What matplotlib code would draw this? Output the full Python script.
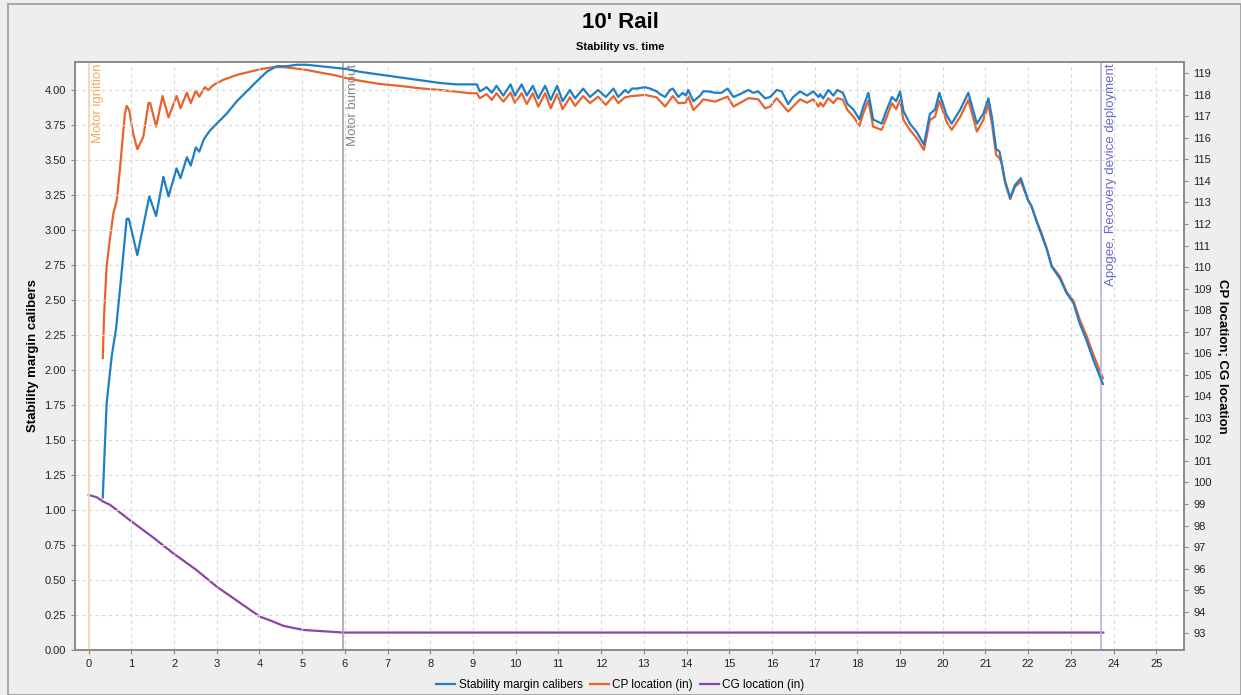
import matplotlib
matplotlib.use("Agg")
import matplotlib.pyplot as plt
from matplotlib.patches import Rectangle
import numpy as np

plt.rcParams['font.family'] = ['Liberation Sans', 'DejaVu Sans']

# stability margin (calibers), left axis
stab_t = [0.33, 0.42, 0.54, 0.64, 0.77, 0.89, 0.94, 1.14, 1.42, 1.58, 1.75, 1.87, 2.06, 2.15,
          2.30, 2.39, 2.51, 2.59, 2.70, 2.84, 3.00, 3.23, 3.47, 3.70, 3.93, 4.17, 4.40, 4.64,
          4.87, 5.11, 5.42, 5.73, 6.04, 6.35, 6.82, 7.29, 7.76, 8.23, 8.62, 8.85, 9.09, 9.16,
          9.32, 9.44, 9.55, 9.71, 9.88, 9.98, 10.14, 10.26, 10.40, 10.53, 10.69, 10.82, 10.97,
          11.10, 11.27, 11.39, 11.58, 11.74, 11.93, 12.11, 12.29, 12.40, 12.56, 12.64, 12.72,
          12.83, 13.03, 13.15, 13.30, 13.38, 13.50, 13.61, 13.68, 13.81, 13.91, 13.98, 14.04,
          14.16, 14.32, 14.39, 14.51, 14.67, 14.82, 14.96, 15.10, 15.25, 15.45, 15.56, 15.68,
          15.84, 15.96, 16.11, 16.23, 16.38, 16.50, 16.66, 16.82, 16.97, 17.09, 17.13, 17.20,
          17.32, 17.44, 17.53, 17.66, 17.77, 17.91, 18.05, 18.14, 18.26, 18.37, 18.57, 18.69,
          18.81, 18.91, 19.00, 19.08, 19.23, 19.39, 19.56, 19.70, 19.82, 19.92, 20.09, 20.21,
          20.41, 20.60, 20.80, 20.95, 21.07, 21.15, 21.25, 21.33, 21.46, 21.58, 21.69, 21.83,
          22.00, 22.08, 22.20, 22.32, 22.44, 22.55, 22.75, 22.90, 23.06, 23.21, 23.37, 23.53, 23.75]
stab_v = [1.09, 1.76, 2.10, 2.29, 2.69, 3.08, 3.08, 2.82, 3.24, 3.10, 3.38, 3.24, 3.44, 3.37,
          3.52, 3.46, 3.59, 3.56, 3.65, 3.71, 3.76, 3.83, 3.92, 3.99, 4.06, 4.13, 4.17, 4.17,
          4.18, 4.18, 4.17, 4.16, 4.15, 4.13, 4.11, 4.09, 4.07, 4.05, 4.04, 4.04, 4.04, 3.99,
          4.02, 3.98, 4.03, 3.96, 4.04, 3.96, 4.04, 3.96, 4.03, 3.94, 4.03, 3.93, 4.03,
          3.92, 4.00, 3.94, 4.01, 3.95, 4.00, 3.95, 4.01, 3.95, 4.00, 3.98, 4.01,
          4.01, 4.02, 4.01, 3.99, 3.97, 3.95, 4.00, 4.01, 3.95, 3.98, 3.96, 4.00,
          3.92, 3.96, 3.99, 3.99, 3.98, 3.98, 4.01, 3.95, 3.97, 4.00, 3.98, 3.99,
          3.94, 3.95, 4.00, 3.99, 3.90, 3.95, 3.99, 3.96, 3.99, 3.95, 3.97, 3.94,
          4.00, 3.96, 4.00, 3.98, 3.90, 3.86, 3.79, 3.88, 3.98, 3.79, 3.76, 3.86,
          3.95, 3.92, 3.99, 3.85, 3.76, 3.70, 3.61, 3.83, 3.86, 3.98, 3.82, 3.76,
          3.86, 3.98, 3.76, 3.83, 3.94, 3.81, 3.58, 3.56, 3.35, 3.23, 3.32, 3.37,
          3.21, 3.17, 3.06, 2.96, 2.86, 2.74, 2.65, 2.55, 2.48, 2.33, 2.21, 2.07, 1.90]

# CP location (in), right axis
cp_t = [0.33, 0.36, 0.42, 0.50, 0.58, 0.66, 0.73, 0.85, 0.89, 0.95, 1.04, 1.14, 1.28, 1.40,
        1.44, 1.58, 1.73, 1.87, 2.06, 2.15, 2.30, 2.39, 2.51, 2.59, 2.72, 2.80, 2.92, 3.15,
        3.47, 3.70, 4.01, 4.32, 4.56, 4.79, 5.11, 5.42, 5.73, 6.04, 6.35, 6.82, 7.29, 7.76,
        8.23, 8.62, 8.93, 9.09, 9.16, 9.32, 9.44, 9.55, 9.71, 9.88, 9.98, 10.14, 10.26, 10.40,
        10.53, 10.69, 10.82, 10.97, 11.10, 11.27, 11.39, 11.58, 11.74, 11.93, 12.11, 12.29,
        12.40, 12.56, 12.72, 13.03, 13.30, 13.50, 13.68, 13.81, 13.98, 14.04, 14.16, 14.32,
        14.39, 14.67, 14.96, 15.10, 15.45, 15.68, 15.84, 15.96, 16.11, 16.38, 16.66, 16.82,
        16.97, 17.09, 17.13, 17.20, 17.32, 17.44, 17.53, 17.66, 17.77, 17.91, 18.05, 18.14,
        18.26, 18.37, 18.57, 18.69, 18.81, 18.91, 19.00, 19.08, 19.23, 19.39, 19.56, 19.70,
        19.82, 19.92, 20.09, 20.21, 20.41, 20.60, 20.80, 20.95, 21.07, 21.15, 21.25, 21.33,
        21.38, 21.46, 21.58, 21.69, 21.83, 22.00, 22.08, 22.20, 22.32, 22.44, 22.55, 22.75,
        22.90, 23.06, 23.21, 23.37, 23.53, 23.75]
cp_v = [105.77, 107.70, 110.02, 111.35, 112.50, 113.12, 114.51, 117.14, 117.48, 117.29, 116.21,
        115.47, 116.05, 117.61, 117.62, 116.52, 117.94, 116.95, 117.94, 117.37, 118.10, 117.61,
        118.19, 117.91, 118.35, 118.22, 118.45, 118.69, 118.92, 119.03, 119.18, 119.28, 119.28,
        119.23, 119.15, 119.03, 118.92, 118.77, 118.65, 118.50, 118.41, 118.30, 118.22, 118.14,
        118.07, 118.07, 117.84, 118.03, 117.76, 118.07, 117.68, 118.10, 117.63, 118.07, 117.57,
        118.07, 117.45, 118.07, 117.37, 118.03, 117.33, 117.88, 117.48, 117.94, 117.61, 117.91,
        117.53, 117.94, 117.61, 117.88, 117.94, 117.99, 117.88, 117.45, 117.94, 117.61, 117.63,
        117.91, 117.29, 117.61, 117.79, 117.68, 117.91, 117.45, 117.84, 117.79, 117.37, 117.45,
        117.84, 117.22, 117.79, 117.63, 117.79, 117.45, 117.63, 117.45, 117.84, 117.61, 117.84,
        117.77, 117.29, 116.98, 116.55, 117.14, 117.73, 116.52, 116.37, 116.98, 117.61, 117.33,
        117.76, 116.83, 116.37, 115.98, 115.44, 116.83, 116.98, 117.73, 116.75, 116.37, 116.98,
        117.76, 116.29, 116.83, 117.53, 116.68, 115.21, 115.05, 114.82, 113.91, 113.15, 113.72,
        113.97, 113.12, 112.81, 112.14, 111.54, 110.84, 110.07, 109.54, 108.84, 108.43, 107.55,
        106.80, 105.92, 104.84]

# CG location (in), right axis
cg_t = [0.00, 0.19, 0.34, 0.50, 1.01, 1.50, 1.98, 2.50, 3.00, 3.50, 4.01, 4.32, 4.56, 5.03,
        5.73, 5.96, 23.76]
cg_v = [99.42, 99.31, 99.11, 98.96, 98.18, 97.46, 96.71, 95.97, 95.16, 94.47, 93.77, 93.54,
        93.34, 93.15, 93.06, 93.03, 93.03]

# flight events
event_t = [0.0, 5.96, 23.71]
event_names = ['Motor ignition', 'Motor burnout', 'Apogee, Recovery device deployment']
event_line_colors = ['#f7d3ad', '#aaa3a0', '#b4b4ea']
event_text_colors = ['#f2aa62', '#8a8380', '#6a6ac6']

blue = '#1f7ec6'
orange = '#e8632c'
purple = '#8b45a8'
bg = '#eeeeee'

fig = plt.figure(figsize=(12.41, 6.95), dpi=100, facecolor=bg)
fig.patches.append(Rectangle((8 / 1241, 0), 1 - 8 / 1241, 1 - 4 / 695, transform=fig.transFigure,
                             fill=False, edgecolor='#9a9a9a', linewidth=1.2))

ax = fig.add_axes([75 / 1241, 45 / 695, 1109 / 1241, 588 / 695])
ax2 = ax.twinx()

ax.set_xlim(-0.32, 25.65)
ax.set_ylim(0, 4.2)
ax2.set_ylim(92.22, 119.52)

# event lines and labels
for t, name, lc, tc in zip(event_t, event_names, event_line_colors, event_text_colors):
    ax.axvline(t, color=lc, linewidth=1.2, zorder=1)
    ax.text(t + 0.08, 4.19, name, rotation=90, ha='left', va='top', color=tc,
            fontsize=9.5, zorder=1)

l1, = ax.plot(stab_t, stab_v, color=blue, linewidth=1.6, zorder=3, label='Stability margin calibers')
l2, = ax2.plot(cp_t, cp_v, color=orange, linewidth=1.6, label='CP location (in)')
l3, = ax2.plot(cg_t, cg_v, color=purple, linewidth=1.6, label='CG location (in)')

ax.set_zorder(ax2.get_zorder() + 1)
ax.patch.set_visible(False)
ax2.patch.set_facecolor('white')
ax2.patch.set_visible(True)

ax.set_xticks(np.arange(0, 26, 1))
ax.set_yticks(np.arange(0, 4.01, 0.25))
ax.yaxis.set_major_formatter(matplotlib.ticker.FormatStrFormatter('%.2f'))
ax2.set_yticks(np.arange(93, 120, 1))

ax.grid(True, color='#d8d8d8', linestyle=(0, (3, 3)), linewidth=0.8)
ax.set_axisbelow(True)

for a in (ax, ax2):
    for s in a.spines.values():
        s.set_color('#8a8a8a')
        s.set_linewidth(1.2)
    a.tick_params(labelsize=8, colors='#222222', length=3, color='#8a8a8a')

ax.set_ylabel('Stability margin calibers', fontsize=9.5, fontweight='bold', labelpad=4)
ax2.set_ylabel('CP location; CG location', fontsize=9.5, fontweight='bold', rotation=270,
               labelpad=12)

fig.text(0.5, 1 - 22 / 695, "10' Rail", ha='center', va='center', fontsize=16, fontweight='bold')
fig.text(0.5, 1 - 47 / 695, 'Stability vs. time', ha='center', va='center', fontsize=8,
         fontweight='bold')

fig.legend(handles=[l1, l2, l3], loc='center', bbox_to_anchor=(0.5, 1 - 685 / 695), ncol=3,
           frameon=False, fontsize=8.5, handlelength=1.6, handletextpad=0.3, columnspacing=0.6)

fig.savefig('out.png', dpi=100, facecolor=bg)
